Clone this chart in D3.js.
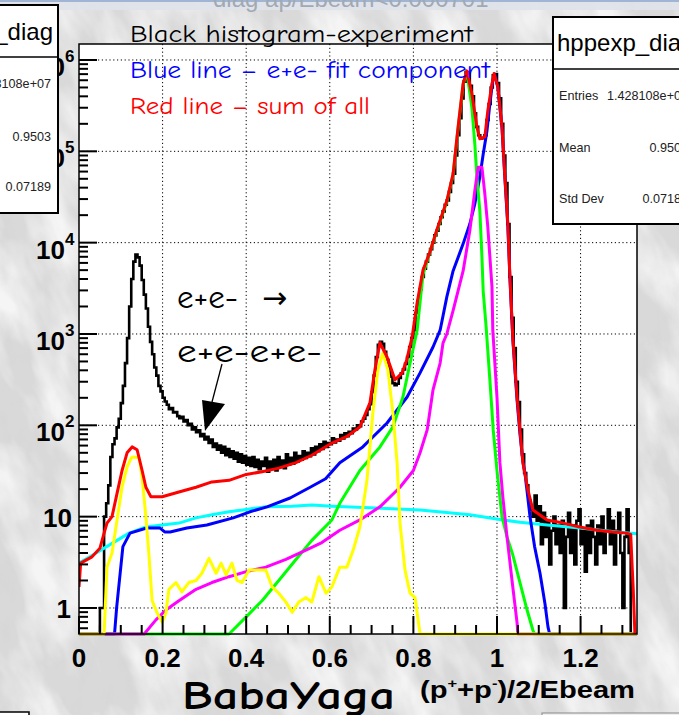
<!DOCTYPE html>
<html><head><meta charset="utf-8">
<script src="https://cdn.jsdelivr.net/npm/d3@7"></script>
<style>html,body{margin:0;padding:0;background:#d6d6d6;overflow:hidden}</style>
</head><body><svg id="c" width="679" height="715"></svg>
<script>
// ---------- data ----------
const xTicks = [0, 0.2, 0.4, 0.6, 0.8, 1, 1.2];
const xTickLabels = ["0", "0.2", "0.4", "0.6", "0.8", "1", "1.2"];
const yDecades = [0, 1, 2, 3, 4, 5, 6];
const statNames = ["Entries", "Mean", "Std Dev"];
const statValues = ["1.428108e+07", "0.9503", "0.07189"];
const histTitle = "hppexp_diag";

// experiment histogram (bin left edge, counts)
const blackHist = [
[0,0],[0.05,1],[0.055,1],[0.06,10],[0.065,14],[0.07,22],[0.075,45],[0.08,62],[0.085,72],[0.09,95],[0.095,118],[0.1,175],[0.105,270],[0.11,480],[0.115,900],[0.12,2000],[0.125,4000],[0.13,6200],[0.135,7400],[0.14,6900],[0.145,5600],[0.15,3900],[0.155,2700],[0.16,1900],[0.165,1200],[0.17,820],[0.175,600],[0.18,430],[0.185,350],[0.19,270],[0.195,235],[0.2,200],[0.205,182],[0.21,168],[0.215,150],[0.22,155],[0.225,138],[0.23,140],[0.235,126],[0.24,120],[0.245,124],[0.25,110],[0.255,114],[0.26,100],[0.265,104],[0.27,90],[0.275,95],[0.28,84],[0.285,88],[0.29,76],[0.295,80],[0.3,70],[0.305,75],[0.31,64],[0.315,70],[0.32,58],[0.325,63],
[0.33,54],[0.335,60],[0.34,50],[0.345,58],[0.35,47],[0.355,55],[0.36,45],[0.365,52],[0.37,43],[0.375,50],[0.38,40],[0.385,48],[0.39,39],[0.395,46],[0.4,37],[0.405,44],[0.41,36],[0.415,45],[0.42,35],[0.425,42],[0.43,33],[0.435,40],[0.44,36],[0.445,44],[0.45,31],[0.455,40],[0.46,34],[0.465,42],[0.47,32],[0.475,45],[0.48,35],[0.485,41],[0.49,34],[0.495,48],[0.5,37],[0.505,44],[0.51,38],[0.515,50],[0.52,40],[0.525,46],[0.53,42],[0.535,52],[0.54,44],[0.545,50],[0.55,46],[0.555,56],[0.56,48],[0.565,58],[0.57,52],[0.575,62],[0.58,55],[0.585,66],[0.59,58],[0.595,64],[0.6,62],[0.605,72],[0.61,65],[0.615,70],[0.62,68],[0.625,78],[0.63,72],[0.635,82],[0.64,76],[0.645,85],[0.65,82],[0.655,92],[0.66,90],[0.665,100],[0.67,98],[0.675,110],[0.68,118],[0.685,130],[0.69,150],[0.695,170],[0.7,230],[0.705,350],[0.71,560],[0.715,760],[0.72,820],[0.725,780],[0.73,640],[0.735,520],[0.74,420],[0.745,340],[0.75,290],[0.755,275],[0.76,285],[0.765,330],[0.77,370],[0.775,410],[0.78,470],[0.785,560],[0.79,720],[0.795,900],[0.8,1100],[0.805,1700],[0.81,2300],[0.815,3100],[0.82,4200],[0.825,5200],[0.83,6200],[0.835,7400],[0.84,8500],[0.845,10000],[0.85,12000],[0.855,13500],[0.86,16000],[0.865,19000],[0.87,22000],[0.875,26000],[0.88,29000],[0.885,36000],[0.89,45000],[0.895,57000],[0.9,90000],[0.905,150000],[0.91,230000],[0.915,380000],[0.92,580000],[0.925,740000],[0.93,720000],[0.935,520000],[0.94,400000],[0.945,260000],[0.95,185000],[0.955,150000],[0.96,138000],[0.965,140000],[0.97,150000],[0.975,220000],[0.98,330000],[0.985,500000],[0.99,680000],[0.995,700000],[1.0,560000],[1.005,380000],[1.01,200000],[1.015,90000],[1.02,45000],[1.025,16000],[1.03,4200],[1.035,1500],[1.04,700],[1.045,300],[1.05,180],[1.055,90],[1.06,48],[1.065,30],[1.07,22],[1.075,15],[1.08,12],
[1.085,10],[1.09,17],[1.095,9],[1.1,13],[1.105,5],[1.11,11],[1.115,6],[1.12,9],[1.125,3],[1.13,7],[1.135,10],[1.14,5],[1.145,8],[1.15,4],[1.155,9],[1.16,1],[1.165,6],[1.17,11],[1.175,4],[1.18,8],[1.185,3],[1.19,9],[1.195,12],[1.2,5],[1.205,7],[1.21,2.5],[1.215,8],[1.22,4],[1.225,9],[1.23,6],[1.235,3],[1.24,8],[1.245,5],[1.25,10],[1.255,4],[1.26,7],[1.265,12],[1.27,5],[1.275,9],[1.28,3],[1.285,7],[1.29,11],[1.295,4],[1.3,1],[1.305,6],[1.31,12],[1.315,4],[1.32,0],[1.335,0]
];

// sum of all fit components (red)
const redSum = [
[0,1.7],[0.004,3.1],[0.03,3.6],[0.05,4.5],[0.06,6.6],[0.067,8.5],[0.079,10],[0.091,18],[0.103,32],[0.115,50],[0.127,58],[0.139,54],[0.151,32],[0.16,21],[0.172,16.5],[0.199,16.5],[0.239,18.6],[0.28,21],[0.318,24],[0.359,25],[0.4,29],[0.438,31],[0.478,34],[0.519,39],[0.557,47],[0.605,64],[0.64,75],[0.672,96],[0.696,176],[0.708,405],[0.72,800],[0.737,560],[0.756,315],[0.773,375],[0.784,520],[0.797,930],[0.809,2200],[0.823,5000],[0.84,8000],[0.856,13800],[0.88,28700],[0.895,56600],[0.907,185000],[0.919,550000],[0.928,760000],[0.94,425000],[0.952,185000],[0.959,137000],[0.971,144000],[0.978,277000],[0.988,550000],[0.993,710000],[1.002,510000],[1.012,185000],[1.019,52500],[1.026,16000],[1.031,4200],[1.038,900],[1.048,204],[1.055,89],[1.062,39],[1.074,19.6],[1.086,11.8],[1.12,9.2],[1.158,8.5],[1.198,7.7],[1.239,7.1],[1.278,6.8],[1.31,6.6],[1.32,6.4],[1.323,3.1],[1.326,1.6],[1.33,0]
];

// e+e- fit component (blue)
const blueEE = [
[0,0],[0.085,0],[0.09,1],[0.105,4.7],[0.122,6.6],[0.162,7.5],[0.194,7.5],[0.205,6.8],[0.218,6.8],[0.258,7.5],[0.306,8.1],[0.369,9.7],[0.409,11.3],[0.45,12.8],[0.505,16],[0.553,21],[0.59,26],[0.624,39],[0.679,58],[0.737,106],[0.785,204],[0.816,375],[0.847,720],[0.864,1100],[0.88,2550],[0.895,4900],[0.919,9700],[0.935,16000],[0.947,26600],[0.959,52500],[0.967,93000],[0.976,167000],[0.983,330000],[0.99,600000],[0.995,690000],[1.002,500000],[1.012,180000],[1.019,50000],[1.026,15000],[1.031,4000],[1.038,850],[1.048,190],[1.055,80],[1.062,40],[1.067,30],[1.079,10],[1.09,4.7],[1.103,2.4],[1.115,1.1],[1.122,0.62],[1.126,0],[1.335,0]
];

// green component
const greenComp = [
[0,0],[0.359,0],[0.4,0.8],[0.438,1.2],[0.478,2.0],[0.519,3.4],[0.557,5.5],[0.605,9.2],[0.624,14],[0.672,32],[0.72,58],[0.751,96],[0.775,204],[0.792,480],[0.809,1100],[0.823,4500],[0.84,8000],[0.856,13500],[0.88,28000],[0.895,55000],[0.907,180000],[0.919,540000],[0.928,740000],[0.94,300000],[0.947,120000],[0.952,52500],[0.959,22300],[0.964,7000],[0.967,2950],[0.974,1200],[0.983,315],[0.991,89],[1.0,32],[1.012,10],[1.024,6],[1.038,3.8],[1.055,1.9],[1.072,0.95],[1.086,0.57],[1.09,0],[1.335,0]
];

// magenta component
const magentaComp = [
[0,0],[0.156,0],[0.184,0.74],[0.208,0.95],[0.239,1.2],[0.28,1.6],[0.318,1.9],[0.359,2.2],[0.4,2.5],[0.447,2.8],[0.495,3.4],[0.543,4.3],[0.581,5.2],[0.624,7.1],[0.672,9.2],[0.72,12.8],[0.768,21],[0.8,32],[0.816,50],[0.833,89],[0.847,245],[0.864,480],[0.871,800],[0.88,1000],[0.895,1800],[0.919,4900],[0.935,13500],[0.947,37000],[0.955,67000],[0.964,67000],[0.971,34000],[0.978,15000],[0.988,3300],[0.99,1100],[1.0,204],[1.007,39],[1.014,16.5],[1.024,6],[1.036,2],[1.048,0.69],[1.05,0],[1.335,0]
];

// yellow component (e+e- -> e+e-e+e- etc.)
const yellowComp = [
[0,0],[0.06,0],[0.067,2.8],[0.079,4],[0.091,9.2],[0.103,21],[0.115,35],[0.125,44],[0.131,45],[0.144,44],[0.151,27],[0.16,10],[0.167,4],[0.175,1.2],[0.187,0.88],[0.199,0.7],[0.208,0.88],[0.215,1.6],[0.232,1.9],[0.246,1.5],[0.263,1.9],[0.28,2.0],[0.294,2.4],[0.311,3.5],[0.328,2.4],[0.34,3.1],[0.352,2.3],[0.366,3.1],[0.378,2.0],[0.39,1.9],[0.407,2.6],[0.431,2.6],[0.447,2.6],[0.462,1.7],[0.478,1.45],[0.495,1.16],[0.51,0.9],[0.526,1.16],[0.543,1.3],[0.557,1.16],[0.574,2.2],[0.591,1.45],[0.605,1.7],[0.624,2.8],[0.641,2.8],[0.656,4.3],[0.672,7.7],[0.689,25],[0.703,137],[0.715,405],[0.727,620],[0.739,405],[0.751,137],[0.761,39],[0.768,8.5],[0.78,2.6],[0.792,1.45],[0.804,1.3],[0.812,0.7],[0.816,0],[1.335,0]
];

// cyan component
const cyanComp = [
[0,3.1],[0.041,4],[0.079,5.1],[0.12,6.6],[0.16,7.7],[0.199,8.1],[0.239,8.5],[0.28,9.7],[0.318,10.5],[0.359,11.3],[0.4,12],[0.447,12.8],[0.51,13],[0.557,13.4],[0.605,13],[0.696,12.5],[0.816,11.8],[0.935,10.5],[1.014,9.2],[1.055,8.7],[1.12,8.1],[1.198,7.5],[1.26,7.0],[1.3,6.7],[1.335,6.5]
];

// ---------- drawing ----------
const svg = d3.select("#c");
const W = 679, H = 715;
const L = 79, R = 637, T = 44, B = 634;
const x = d3.scaleLinear().domain([0, 1.335]).range([L, R]);
const y = d3.scaleLog().domain([Math.pow(10, -0.285), Math.pow(10, 6.175)]).range([B, T]).clamp(true);
const yv = v => v > 0 ? y(v) : B;

const defs = svg.append("defs");
const f = defs.append("filter").attr("id", "tex").attr("filterUnits", "userSpaceOnUse")
  .attr("x", -400).attr("y", -400).attr("width", W + 800).attr("height", H + 800);
f.append("feTurbulence").attr("type", "fractalNoise").attr("baseFrequency", "0.025 0.01")
  .attr("numOctaves", 4).attr("seed", 11);
f.append("feColorMatrix").attr("type", "matrix")
  .attr("values", "0 0 0 0 1  0 0 0 0 1  0 0 0 0 1  2.6 0 0 0 -1.0");
const f2 = defs.append("filter").attr("id", "tex2").attr("filterUnits", "userSpaceOnUse")
  .attr("x", 0).attr("y", 0).attr("width", W).attr("height", H);
f2.append("feTurbulence").attr("type", "fractalNoise").attr("baseFrequency", "0.06 0.03")
  .attr("numOctaves", 3).attr("seed", 4);
f2.append("feColorMatrix").attr("type", "matrix")
  .attr("values", "0 0 0 0 0.5  0 0 0 0 0.5  0 0 0 0 0.5  0 0 1.6 0 -0.8");
defs.append("clipPath").attr("id", "plotclip").append("rect")
  .attr("x", L).attr("y", T - 4).attr("width", R - L).attr("height", B - T + 8);

// background
svg.append("rect").attr("width", W).attr("height", H).attr("fill", "#d9d9d9");
svg.append("g").attr("transform", "rotate(-25 340 357)")
  .append("rect").attr("x", -400).attr("y", -400).attr("width", W + 800).attr("height", H + 800)
  .attr("fill", "#fff").attr("filter", "url(#tex)").attr("opacity", 0.75);
svg.append("rect").attr("width", W).attr("height", H).attr("fill", "#000").attr("filter", "url(#tex2)").attr("opacity", 0.15);

// top faint title strip
svg.append("rect").attr("x", 0).attr("y", 0).attr("width", W).attr("height", 10).attr("fill", "#dfe3ea").attr("opacity", 0.9);
svg.append("rect").attr("x", 0).attr("y", 0).attr("width", W).attr("height", 2).attr("fill", "#9fb5d3");
svg.append("text").attr("x", 213).attr("y", 7).attr("font-family", "Liberation Sans, Arial, sans-serif")
  .attr("font-size", 24).attr("fill", "#a2a9b3").text("diag ap/Ebeam<0.000701");

// y labels (drawn before the left stat box, which covers part of them)
const labelFont = "Liberation Sans, Arial, Helvetica, sans-serif";
yDecades.forEach(d => {
  const ty = y(Math.pow(10, d));
  if (d === 0) {
    svg.append("text").attr("x", 71).attr("y", ty + 10).attr("text-anchor", "end")
      .attr("font-family", labelFont).attr("font-weight", "bold").attr("font-size", 26).text("1");
  } else if (d === 1) {
    svg.append("text").attr("x", 72).attr("y", ty + 10).attr("text-anchor", "end")
      .attr("font-family", labelFont).attr("font-weight", "bold").attr("font-size", 26).text("10");
  } else {
    svg.append("text").attr("x", 65).attr("y", ty + 16).attr("text-anchor", "end")
      .attr("font-family", labelFont).attr("font-weight", "bold").attr("font-size", 26).text("10");
    svg.append("text").attr("x", 65).attr("y", ty + 2)
      .attr("font-family", labelFont).attr("font-weight", "bold").attr("font-size", 17).text(String(d));
  }
});

// left (cut) stat box
const lb = svg.append("g");
lb.append("rect").attr("x", -4).attr("y", 5).attr("width", 62).attr("height", 208)
  .attr("fill", "#fff").attr("stroke", "#000").attr("stroke-width", 2);
lb.append("line").attr("x1", -4).attr("x2", 58).attr("y1", 57).attr("y2", 57).attr("stroke", "#000").attr("stroke-width", 1.5);
lb.append("text").attr("x", 53).attr("y", 40).attr("text-anchor", "end").attr("font-family", labelFont)
  .attr("font-size", 24).text(histTitle);
[88, 141, 191].forEach((yy, i) => {
  lb.append("text").attr("x", 51).attr("y", yy).attr("text-anchor", "end").attr("font-family", labelFont)
    .attr("font-size", 12.6).attr("fill", "#222").text(statValues[i]);
});

// plot frame
svg.append("rect").attr("x", L).attr("y", T).attr("width", R - L).attr("height", B - T).attr("fill", "#fff");

// grid
const grid = svg.append("g").attr("stroke", "#000").attr("stroke-width", 1).attr("stroke-dasharray", "1.2,2.6");
xTicks.filter(t => t > 0).forEach(t => grid.append("line").attr("x1", x(t)).attr("x2", x(t)).attr("y1", T).attr("y2", B));
yDecades.forEach(d => grid.append("line").attr("x1", L).attr("x2", R).attr("y1", y(Math.pow(10, d))).attr("y2", y(Math.pow(10, d))));

// series
const plot = svg.append("g").attr("clip-path", "url(#plotclip)");
const lineLin = d3.line().x(d => x(d[0])).y(d => yv(d[1])).curve(d3.curveLinear);
const lineStep = d3.line().x(d => x(d[0])).y(d => yv(d[1])).curve(d3.curveStepAfter);
plot.append("path").datum(blackHist).attr("d", lineStep).attr("fill", "none").attr("stroke", "#000").attr("stroke-width", 2.6);
const comps = [[cyanComp, "#00ffff"], [blueEE, "#0000ff"], [greenComp, "#00ff00"], [magentaComp, "#ff00ff"], [yellowComp, "#ffff00"], [redSum, "#ff0000"]];
comps.forEach(([data, col]) => {
  plot.append("path").datum(data).attr("d", lineLin).attr("fill", "none").attr("stroke", col)
    .attr("stroke-width", 3).attr("stroke-linejoin", "round");
});

// frame outline
svg.append("rect").attr("x", L).attr("y", T).attr("width", R - L).attr("height", B - T)
  .attr("fill", "none").attr("stroke", "#000").attr("stroke-width", 1.5);

// axes ticks
const ax = svg.append("g").attr("stroke", "#000").attr("stroke-width", 2);
for (let i = 0; i * 0.05 <= 1.335 + 1e-9; i++) {
  const v = i * 0.05;
  const major = i % 4 === 0;
  ax.append("line").attr("x1", x(v)).attr("x2", x(v)).attr("y1", B).attr("y2", B - (major ? 18 : 9));
}
for (let d = -1; d <= 6; d++) {
  for (let k = 1; k <= 9; k++) {
    const v = k * Math.pow(10, d);
    const [lo, hi] = y.domain();
    if (v < lo || v > hi) continue;
    ax.append("line").attr("x1", L).attr("x2", L + (k === 1 ? 18 : 9)).attr("y1", y(v)).attr("y2", y(v));
  }
}

// x tick labels
xTicks.forEach((t, i) => {
  svg.append("text").attr("x", x(t)).attr("y", 667).attr("text-anchor", "middle")
    .attr("font-family", labelFont).attr("font-weight", "bold").attr("font-size", 26).text(xTickLabels[i]);
});

// axis titles
const comic = "'Comic Sans MS', 'Comic Neue', 'Open Sans', sans-serif";
svg.append("text").attr("x", 182).attr("y", 709).attr("font-family", comic).attr("font-weight", "bold")
  .attr("font-size", 40).attr("textLength", 213).attr("lengthAdjust", "spacingAndGlyphs").text("BabaYaga");
const xt = svg.append("text").attr("x", 420).attr("y", 698).attr("font-family", labelFont)
  .attr("font-weight", "bold").attr("font-size", 23).attr("textLength", 215).attr("lengthAdjust", "spacingAndGlyphs");
xt.append("tspan").text("(p");
xt.append("tspan").attr("dy", -10).attr("font-size", 13).text("+");
xt.append("tspan").attr("dy", 10).text("+p");
xt.append("tspan").attr("dy", -10).attr("font-size", 13).text("-");
xt.append("tspan").attr("dy", 10).text(")/2/Ebeam");

// legend-like annotations
svg.append("text").attr("x", 130).attr("y", 42).attr("font-family", comic).attr("font-size", 25)
  .attr("fill", "#000").attr("textLength", 343).attr("lengthAdjust", "spacingAndGlyphs").text("Black histogram-experiment");
svg.append("text").attr("x", 130).attr("y", 78).attr("font-family", comic).attr("font-size", 25)
  .attr("fill", "#0000ff").attr("textLength", 360).attr("lengthAdjust", "spacingAndGlyphs").text("Blue line – e+e- fit component");
svg.append("text").attr("x", 130).attr("y", 114).attr("font-family", comic).attr("font-size", 25)
  .attr("fill", "#ff0000").attr("textLength", 240).attr("lengthAdjust", "spacingAndGlyphs").text("Red line – sum of all");
const ann1 = svg.append("text").attr("x", 177).attr("y", 308).attr("font-family", comic).attr("font-size", 33);
ann1.append("tspan").text("e+e- ");
ann1.append("tspan").attr("x", 262).attr("font-family", "DejaVu Sans, sans-serif").attr("font-size", 30).text("→");
svg.append("text").attr("x", 177).attr("y", 362).attr("font-family", comic).attr("font-size", 33)
  .attr("textLength", 145).attr("lengthAdjust", "spacingAndGlyphs").text("e+e-e+e-");
svg.append("line").attr("x1", 222).attr("y1", 364).attr("x2", 212).attr("y2", 402).attr("stroke", "#000").attr("stroke-width", 1.3);
svg.append("polygon").attr("points", "202,400 225,404 205,431").attr("fill", "#000");

// right stat box
const rb = svg.append("g");
rb.append("rect").attr("x", 553).attr("y", 17).attr("width", 140).attr("height", 207)
  .attr("fill", "#fff").attr("stroke", "#000").attr("stroke-width", 2);
rb.append("line").attr("x1", 553).attr("x2", 693).attr("y1", 69).attr("y2", 69).attr("stroke", "#000").attr("stroke-width", 1.5);
rb.append("text").attr("x", 557).attr("y", 51).attr("font-family", labelFont).attr("font-size", 24).text(histTitle);
[100, 152, 203].forEach((yy, i) => {
  rb.append("text").attr("x", 559).attr("y", yy).attr("font-family", labelFont).attr("font-size", 12.6).attr("fill", "#222").text(statNames[i]);
  rb.append("text").attr("x", 688).attr("y", yy).attr("text-anchor", "end").attr("font-family", labelFont).attr("font-size", 12.6).attr("fill", "#222").text(statValues[i]);
});

// bottom boxes (partially visible)
svg.append("rect").attr("x", -2).attr("y", 712).attr("width", 31).attr("height", 10).attr("fill", "#fff").attr("stroke", "#000").attr("stroke-width", 1.5);
svg.append("rect").attr("x", 542).attr("y", 713).attr("width", 150).attr("height", 10).attr("fill", "#eee").attr("stroke", "#888").attr("stroke-width", 1);
</script>
</body></html>
